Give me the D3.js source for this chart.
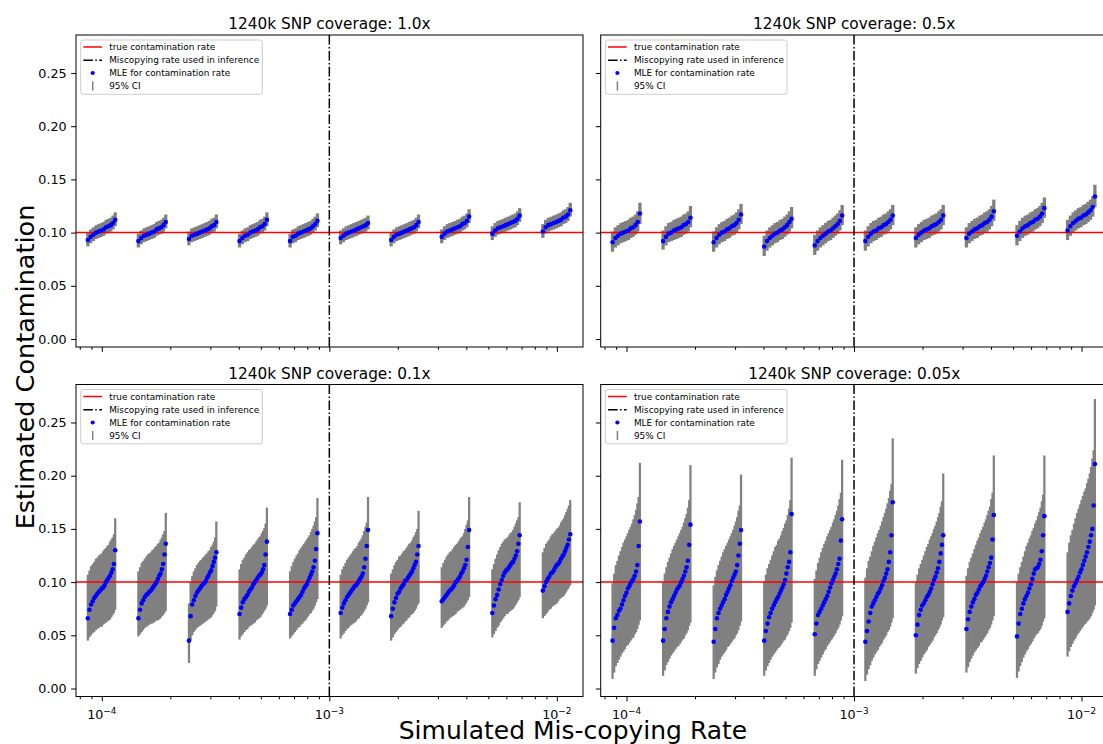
<!DOCTYPE html>
<html>
<head>
<meta charset="utf-8">
<script src="https://cdn.jsdelivr.net/npm/d3@7"></script>
<style>
  body { margin: 0; background: #fff; }
  text { font-family: "DejaVu Sans", sans-serif; }
</style>
</head>
<body>
<svg id="chart" width="1103" height="744"></svg>
<script>
// simulated mis-copying rates (one group of runs per rate)
const rates = [1e-4, 1.668e-4, 2.783e-4, 4.642e-4, 7.743e-4, 1.292e-3, 2.154e-3, 3.594e-3, 5.995e-3, 1e-2];
const coverages = ['1.0x', '0.5x', '0.1x', '0.05x'];
const trueContamination = 0.1;
const inferenceRate = 1e-3;
const yTicks = [0, 0.05, 0.10, 0.15, 0.20, 0.25];
const xTicks = [1e-4, 1e-3, 1e-2];
const xTickExp = ['\u22124', '\u22123', '\u22122'];
const minorTicks = [8e-5, 9e-5, 2e-4, 3e-4, 4e-4, 5e-4, 6e-4, 7e-4, 8e-4, 9e-4,
                    2e-3, 3e-3, 4e-3, 5e-3, 6e-3, 7e-3, 8e-3, 9e-3];
const legendLabels = ['true contamination rate', 'Miscopying rate used in inference',
                      'MLE for contamination rate', '95% CI'];

// coverage 1.0x: sorted MLEs and 95% CI per rate group
const mle_1x = [
  [0.093,0.096,0.098,0.100,0.101,0.102,0.103,0.105,0.106,0.107,0.109,0.112],
  [0.092,0.095,0.097,0.098,0.099,0.100,0.101,0.103,0.104,0.105,0.107,0.110],
  [0.094,0.097,0.098,0.099,0.100,0.101,0.102,0.103,0.104,0.106,0.107,0.110],
  [0.092,0.095,0.097,0.098,0.100,0.101,0.102,0.103,0.105,0.106,0.108,0.112],
  [0.092,0.096,0.097,0.099,0.100,0.101,0.102,0.103,0.104,0.106,0.108,0.111],
  [0.095,0.097,0.099,0.100,0.101,0.102,0.103,0.104,0.105,0.106,0.107,0.109],
  [0.093,0.096,0.098,0.099,0.100,0.101,0.102,0.103,0.104,0.105,0.107,0.110],
  [0.096,0.099,0.101,0.102,0.103,0.104,0.105,0.106,0.108,0.109,0.111,0.115],
  [0.099,0.102,0.104,0.105,0.106,0.107,0.108,0.109,0.110,0.111,0.113,0.116],
  [0.101,0.105,0.107,0.108,0.109,0.110,0.111,0.112,0.114,0.115,0.117,0.121]
];
const ciLow_1x = [
  [0.087,0.090,0.092,0.094,0.095,0.096,0.097,0.099,0.100,0.101,0.103,0.106],
  [0.086,0.089,0.091,0.092,0.093,0.094,0.095,0.097,0.098,0.099,0.101,0.104],
  [0.088,0.091,0.092,0.093,0.094,0.095,0.096,0.097,0.098,0.100,0.101,0.104],
  [0.086,0.089,0.091,0.092,0.094,0.095,0.096,0.097,0.099,0.100,0.102,0.106],
  [0.086,0.090,0.091,0.093,0.094,0.095,0.096,0.097,0.098,0.100,0.102,0.105],
  [0.089,0.091,0.093,0.094,0.095,0.096,0.097,0.098,0.099,0.100,0.101,0.103],
  [0.087,0.090,0.092,0.093,0.094,0.095,0.096,0.097,0.098,0.099,0.101,0.104],
  [0.090,0.093,0.095,0.096,0.097,0.098,0.099,0.100,0.102,0.103,0.105,0.109],
  [0.093,0.096,0.098,0.099,0.100,0.101,0.102,0.103,0.104,0.105,0.107,0.110],
  [0.095,0.099,0.101,0.102,0.103,0.104,0.105,0.106,0.108,0.109,0.111,0.115]
];
const ciHigh_1x = [
  [0.100,0.103,0.105,0.107,0.108,0.109,0.110,0.112,0.113,0.114,0.116,0.119],
  [0.099,0.102,0.104,0.105,0.106,0.107,0.108,0.110,0.111,0.112,0.114,0.117],
  [0.101,0.104,0.105,0.106,0.107,0.108,0.109,0.110,0.111,0.113,0.114,0.117],
  [0.099,0.102,0.104,0.105,0.107,0.108,0.109,0.110,0.112,0.113,0.115,0.119],
  [0.099,0.103,0.104,0.106,0.107,0.108,0.109,0.110,0.111,0.113,0.115,0.118],
  [0.102,0.104,0.106,0.107,0.108,0.109,0.110,0.111,0.112,0.113,0.114,0.116],
  [0.100,0.103,0.105,0.106,0.107,0.108,0.109,0.110,0.111,0.112,0.114,0.117],
  [0.103,0.106,0.108,0.109,0.110,0.111,0.112,0.113,0.115,0.116,0.118,0.122],
  [0.106,0.109,0.111,0.112,0.113,0.114,0.115,0.116,0.117,0.118,0.120,0.123],
  [0.108,0.112,0.114,0.115,0.116,0.117,0.118,0.119,0.121,0.122,0.124,0.128]
];

// coverage 0.5x
const mle_05x = [
  [0.091,0.095,0.097,0.099,0.100,0.101,0.102,0.104,0.105,0.107,0.110,0.118],
  [0.092,0.096,0.099,0.100,0.102,0.103,0.104,0.105,0.107,0.108,0.110,0.114],
  [0.091,0.095,0.098,0.100,0.101,0.103,0.104,0.106,0.107,0.109,0.112,0.117],
  [0.087,0.092,0.095,0.097,0.099,0.100,0.102,0.103,0.105,0.107,0.110,0.113],
  [0.088,0.092,0.095,0.097,0.099,0.101,0.102,0.104,0.106,0.108,0.111,0.116],
  [0.092,0.096,0.099,0.101,0.102,0.104,0.105,0.107,0.108,0.110,0.112,0.116],
  [0.095,0.098,0.100,0.102,0.103,0.104,0.106,0.107,0.108,0.110,0.112,0.116],
  [0.095,0.099,0.101,0.103,0.104,0.106,0.107,0.109,0.110,0.112,0.115,0.120],
  [0.097,0.101,0.104,0.106,0.107,0.109,0.110,0.112,0.113,0.115,0.118,0.123],
  [0.102,0.106,0.109,0.111,0.113,0.114,0.116,0.117,0.119,0.121,0.124,0.134]
];
const ciLow_05x = [
  [0.082,0.086,0.088,0.090,0.091,0.092,0.093,0.095,0.096,0.098,0.101,0.108],
  [0.084,0.088,0.091,0.092,0.093,0.094,0.095,0.096,0.098,0.099,0.101,0.105],
  [0.082,0.086,0.089,0.091,0.092,0.094,0.095,0.097,0.098,0.100,0.103,0.108],
  [0.078,0.083,0.086,0.088,0.090,0.091,0.093,0.094,0.096,0.098,0.101,0.104],
  [0.079,0.083,0.086,0.088,0.090,0.092,0.093,0.095,0.097,0.099,0.102,0.107],
  [0.083,0.087,0.090,0.092,0.093,0.095,0.096,0.098,0.099,0.101,0.103,0.107],
  [0.086,0.089,0.091,0.093,0.094,0.095,0.097,0.098,0.099,0.101,0.103,0.107],
  [0.086,0.090,0.092,0.094,0.095,0.097,0.098,0.100,0.101,0.103,0.106,0.111],
  [0.088,0.092,0.095,0.097,0.098,0.100,0.101,0.103,0.104,0.106,0.109,0.114],
  [0.093,0.097,0.100,0.102,0.104,0.105,0.107,0.108,0.110,0.112,0.115,0.124]
];
const ciHigh_05x = [
  [0.101,0.105,0.107,0.109,0.110,0.111,0.112,0.114,0.115,0.117,0.120,0.128],
  [0.102,0.106,0.109,0.110,0.112,0.113,0.114,0.115,0.117,0.118,0.120,0.125],
  [0.101,0.105,0.108,0.110,0.111,0.113,0.114,0.116,0.117,0.119,0.122,0.127],
  [0.097,0.102,0.105,0.107,0.109,0.110,0.112,0.113,0.115,0.117,0.120,0.124],
  [0.098,0.102,0.105,0.107,0.109,0.111,0.112,0.114,0.116,0.118,0.121,0.126],
  [0.102,0.106,0.109,0.111,0.112,0.114,0.115,0.117,0.118,0.120,0.122,0.126],
  [0.105,0.108,0.110,0.112,0.113,0.114,0.116,0.117,0.118,0.120,0.122,0.126],
  [0.105,0.109,0.111,0.113,0.114,0.116,0.117,0.119,0.120,0.122,0.125,0.131],
  [0.107,0.111,0.114,0.116,0.117,0.119,0.120,0.122,0.123,0.125,0.128,0.133],
  [0.112,0.116,0.119,0.121,0.123,0.124,0.126,0.127,0.129,0.131,0.134,0.145]
];

// coverage 0.1x
const mle_01x = [
  [0.066,0.074,0.079,0.082,0.085,0.087,0.089,0.091,0.092,0.094,0.095,0.097,0.100,0.102,0.104,0.106,0.109,0.112,0.117,0.130],
  [0.066,0.074,0.080,0.083,0.086,0.088,0.089,0.091,0.092,0.094,0.096,0.098,0.100,0.103,0.106,0.108,0.112,0.117,0.126,0.136],
  [0.045,0.068,0.079,0.083,0.087,0.090,0.092,0.094,0.096,0.098,0.099,0.101,0.104,0.106,0.109,0.111,0.115,0.119,0.123,0.128],
  [0.070,0.076,0.081,0.084,0.086,0.088,0.091,0.093,0.095,0.098,0.100,0.102,0.104,0.106,0.107,0.109,0.112,0.116,0.126,0.138],
  [0.070,0.074,0.078,0.080,0.082,0.084,0.086,0.088,0.091,0.094,0.096,0.098,0.101,0.104,0.107,0.110,0.114,0.120,0.131,0.146],
  [0.071,0.076,0.080,0.083,0.086,0.088,0.090,0.092,0.094,0.096,0.097,0.099,0.101,0.103,0.105,0.108,0.114,0.122,0.134,0.149],
  [0.068,0.075,0.081,0.085,0.089,0.091,0.094,0.096,0.098,0.101,0.102,0.104,0.106,0.108,0.110,0.113,0.116,0.119,0.126,0.134],
  [0.082,0.084,0.086,0.088,0.090,0.092,0.093,0.095,0.097,0.100,0.101,0.103,0.105,0.108,0.110,0.113,0.116,0.121,0.133,0.149],
  [0.071,0.078,0.084,0.088,0.093,0.098,0.102,0.106,0.109,0.111,0.112,0.114,0.116,0.118,0.119,0.122,0.125,0.129,0.136,0.144],
  [0.092,0.096,0.100,0.103,0.105,0.108,0.109,0.111,0.114,0.116,0.117,0.119,0.122,0.124,0.126,0.129,0.132,0.135,0.140,0.145]
];
const ciLow_01x = [
  [0.045,0.048,0.050,0.052,0.053,0.055,0.056,0.057,0.058,0.058,0.060,0.061,0.062,0.063,0.064,0.065,0.067,0.069,0.071,0.074],
  [0.049,0.051,0.053,0.055,0.057,0.058,0.059,0.060,0.061,0.061,0.062,0.063,0.064,0.064,0.065,0.066,0.068,0.069,0.071,0.073],
  [0.024,0.045,0.050,0.053,0.055,0.057,0.058,0.059,0.060,0.061,0.062,0.063,0.064,0.065,0.066,0.067,0.069,0.071,0.073,0.077],
  [0.046,0.049,0.051,0.053,0.055,0.056,0.058,0.059,0.060,0.061,0.062,0.064,0.065,0.066,0.067,0.069,0.071,0.073,0.075,0.078],
  [0.047,0.049,0.051,0.053,0.055,0.057,0.058,0.060,0.061,0.063,0.064,0.066,0.068,0.070,0.071,0.073,0.075,0.078,0.081,0.084],
  [0.047,0.050,0.052,0.054,0.056,0.057,0.059,0.060,0.061,0.062,0.063,0.065,0.066,0.068,0.069,0.071,0.073,0.075,0.078,0.081],
  [0.045,0.048,0.051,0.053,0.055,0.057,0.058,0.060,0.061,0.063,0.064,0.066,0.067,0.069,0.070,0.071,0.073,0.075,0.078,0.080],
  [0.057,0.059,0.061,0.063,0.064,0.066,0.067,0.068,0.069,0.070,0.072,0.073,0.074,0.075,0.076,0.077,0.079,0.081,0.083,0.086],
  [0.048,0.051,0.054,0.057,0.059,0.062,0.064,0.066,0.068,0.070,0.070,0.072,0.073,0.074,0.075,0.077,0.079,0.081,0.083,0.086],
  [0.066,0.068,0.070,0.072,0.074,0.075,0.077,0.078,0.079,0.080,0.082,0.084,0.085,0.086,0.087,0.089,0.091,0.093,0.095,0.097]
];
const ciHigh_01x = [
  [0.107,0.111,0.115,0.117,0.119,0.122,0.123,0.125,0.126,0.127,0.129,0.131,0.132,0.134,0.135,0.138,0.140,0.142,0.145,0.160],
  [0.110,0.114,0.118,0.120,0.122,0.124,0.126,0.127,0.128,0.130,0.131,0.133,0.134,0.136,0.137,0.140,0.142,0.145,0.148,0.165],
  [0.080,0.100,0.106,0.110,0.113,0.116,0.118,0.120,0.121,0.123,0.124,0.126,0.127,0.129,0.130,0.133,0.135,0.138,0.142,0.157],
  [0.112,0.117,0.121,0.123,0.126,0.128,0.130,0.131,0.133,0.135,0.136,0.138,0.140,0.142,0.143,0.146,0.148,0.151,0.155,0.170],
  [0.110,0.115,0.119,0.122,0.125,0.127,0.130,0.132,0.134,0.136,0.138,0.140,0.142,0.144,0.147,0.150,0.153,0.157,0.161,0.179],
  [0.107,0.112,0.115,0.118,0.121,0.123,0.125,0.127,0.129,0.131,0.132,0.134,0.137,0.139,0.141,0.144,0.148,0.152,0.156,0.180],
  [0.108,0.112,0.116,0.119,0.121,0.124,0.125,0.127,0.129,0.130,0.132,0.134,0.136,0.137,0.139,0.142,0.144,0.147,0.150,0.167],
  [0.114,0.118,0.121,0.124,0.126,0.128,0.129,0.131,0.133,0.135,0.136,0.138,0.140,0.142,0.143,0.146,0.150,0.154,0.158,0.180],
  [0.112,0.117,0.122,0.126,0.130,0.133,0.136,0.138,0.140,0.141,0.142,0.144,0.146,0.147,0.149,0.152,0.155,0.158,0.161,0.175],
  [0.128,0.132,0.136,0.138,0.140,0.143,0.145,0.146,0.148,0.150,0.151,0.153,0.156,0.158,0.160,0.163,0.166,0.169,0.172,0.177]
];

// coverage 0.05x
const mle_005x = [
  [0.045,0.057,0.066,0.069,0.073,0.075,0.079,0.083,0.087,0.090,0.094,0.096,0.099,0.101,0.103,0.106,0.110,0.116,0.134,0.157],
  [0.045,0.056,0.066,0.072,0.077,0.081,0.084,0.087,0.090,0.093,0.095,0.097,0.100,0.103,0.106,0.110,0.114,0.120,0.135,0.154],
  [0.044,0.056,0.066,0.071,0.075,0.078,0.081,0.084,0.088,0.091,0.094,0.097,0.101,0.104,0.107,0.110,0.116,0.125,0.136,0.149],
  [0.045,0.054,0.061,0.067,0.071,0.075,0.078,0.081,0.084,0.086,0.089,0.092,0.095,0.098,0.102,0.108,0.114,0.119,0.128,0.164],
  [0.051,0.061,0.069,0.072,0.075,0.078,0.081,0.084,0.087,0.091,0.095,0.099,0.102,0.105,0.108,0.112,0.117,0.122,0.139,0.159],
  [0.044,0.054,0.063,0.071,0.077,0.080,0.083,0.086,0.089,0.091,0.094,0.097,0.101,0.104,0.108,0.112,0.119,0.128,0.144,0.175],
  [0.050,0.060,0.069,0.074,0.078,0.080,0.083,0.086,0.088,0.091,0.094,0.098,0.102,0.105,0.109,0.113,0.119,0.127,0.135,0.144],
  [0.056,0.065,0.072,0.077,0.081,0.084,0.088,0.090,0.093,0.096,0.098,0.100,0.103,0.106,0.110,0.114,0.118,0.123,0.140,0.163],
  [0.049,0.061,0.070,0.075,0.080,0.084,0.087,0.090,0.094,0.098,0.103,0.108,0.112,0.113,0.114,0.117,0.121,0.129,0.144,0.162],
  [0.072,0.080,0.087,0.092,0.096,0.099,0.102,0.105,0.109,0.112,0.116,0.120,0.124,0.128,0.133,0.138,0.144,0.150,0.172,0.211]
];
const ciLow_005x = [
  [0.009,0.015,0.021,0.024,0.027,0.030,0.033,0.035,0.037,0.040,0.041,0.043,0.045,0.047,0.048,0.051,0.053,0.056,0.060,0.064],
  [0.012,0.017,0.022,0.025,0.028,0.031,0.033,0.035,0.037,0.039,0.040,0.042,0.044,0.046,0.047,0.050,0.052,0.055,0.059,0.062],
  [0.009,0.015,0.020,0.023,0.027,0.030,0.032,0.034,0.036,0.039,0.040,0.042,0.044,0.046,0.047,0.050,0.052,0.055,0.059,0.063],
  [0.012,0.017,0.021,0.024,0.027,0.030,0.032,0.034,0.036,0.038,0.039,0.041,0.043,0.045,0.046,0.049,0.051,0.054,0.057,0.062],
  [0.012,0.018,0.023,0.026,0.029,0.032,0.035,0.037,0.040,0.042,0.044,0.046,0.048,0.050,0.052,0.055,0.057,0.060,0.064,0.068],
  [0.007,0.013,0.018,0.022,0.026,0.029,0.032,0.034,0.036,0.039,0.041,0.043,0.046,0.048,0.050,0.053,0.055,0.058,0.062,0.066],
  [0.014,0.019,0.023,0.026,0.029,0.032,0.034,0.036,0.039,0.041,0.043,0.045,0.048,0.050,0.052,0.055,0.057,0.060,0.064,0.067],
  [0.015,0.020,0.025,0.028,0.031,0.034,0.036,0.038,0.040,0.043,0.044,0.046,0.048,0.050,0.052,0.055,0.057,0.060,0.064,0.068],
  [0.010,0.016,0.021,0.025,0.029,0.032,0.035,0.037,0.040,0.042,0.044,0.047,0.049,0.051,0.052,0.054,0.056,0.059,0.063,0.066],
  [0.030,0.035,0.039,0.042,0.045,0.047,0.050,0.052,0.054,0.056,0.058,0.060,0.061,0.063,0.064,0.066,0.068,0.071,0.074,0.078]
];
const ciHigh_005x = [
  [0.099,0.108,0.116,0.120,0.125,0.129,0.133,0.137,0.140,0.143,0.146,0.149,0.152,0.155,0.159,0.163,0.168,0.174,0.180,0.212],
  [0.100,0.108,0.114,0.119,0.123,0.127,0.131,0.134,0.137,0.140,0.143,0.146,0.149,0.152,0.156,0.160,0.164,0.170,0.177,0.210],
  [0.097,0.105,0.111,0.116,0.120,0.124,0.128,0.131,0.134,0.137,0.140,0.143,0.146,0.149,0.153,0.157,0.161,0.167,0.172,0.201],
  [0.100,0.107,0.113,0.117,0.121,0.125,0.129,0.133,0.135,0.139,0.141,0.144,0.148,0.151,0.155,0.158,0.163,0.169,0.177,0.217],
  [0.103,0.111,0.118,0.123,0.128,0.132,0.136,0.139,0.143,0.146,0.149,0.152,0.156,0.159,0.163,0.167,0.172,0.178,0.184,0.215],
  [0.104,0.113,0.120,0.124,0.129,0.134,0.138,0.142,0.146,0.149,0.153,0.157,0.161,0.165,0.169,0.174,0.179,0.186,0.192,0.235],
  [0.100,0.107,0.113,0.117,0.121,0.125,0.129,0.133,0.136,0.140,0.143,0.146,0.150,0.153,0.157,0.161,0.165,0.171,0.176,0.202],
  [0.106,0.113,0.119,0.123,0.127,0.131,0.135,0.139,0.142,0.146,0.149,0.152,0.156,0.159,0.163,0.167,0.171,0.178,0.184,0.219],
  [0.100,0.108,0.114,0.119,0.124,0.129,0.134,0.137,0.141,0.144,0.148,0.151,0.155,0.158,0.162,0.166,0.170,0.176,0.182,0.219],
  [0.128,0.137,0.144,0.149,0.155,0.160,0.165,0.169,0.173,0.177,0.181,0.185,0.188,0.193,0.197,0.202,0.208,0.216,0.224,0.272]
];

const panels = [
  {cov: coverages[0], mle: mle_1x,   lo: ciLow_1x,   hi: ciHigh_1x},
  {cov: coverages[1], mle: mle_05x,  lo: ciLow_05x,  hi: ciHigh_05x},
  {cov: coverages[2], mle: mle_01x,  lo: ciLow_01x,  hi: ciHigh_01x},
  {cov: coverages[3], mle: mle_005x, lo: ciLow_005x, hi: ciHigh_005x}
];

const svg = d3.select('#chart');
const W = 507, H = 312;
const origins = [[76, 35], [600.7, 35], [76, 384.5], [600.7, 384.5]];

const x = d3.scaleLog().domain([Math.pow(10, -4.1135), Math.pow(10, -1.885)]).range([0, W]);
const y = d3.scaleLinear().domain([-0.0075, 0.2857]).range([H, 0]);
// runs inside a group are spread around the rate, in order of their MLE
const spread = d3.scaleLinear().domain([0, 1]).range([0.868, 1.145]);

const grey = '#808080';

panels.forEach((p, k) => {
  const [ox, oy] = origins[k];
  const isLeft = k % 2 === 0;
  const isBottom = k >= 2;
  const g = svg.append('g').attr('transform', `translate(${ox},${oy})`);

  const runX = (r, i, n) => x(r * spread(i / (n - 1)));

  // 95% CI bars
  rates.forEach((r, gi) => {
    const n = p.mle[gi].length;
    const xs = p.mle[gi].map((d, i) => runX(r, i, n));
    const bw = (xs[n - 1] - xs[0]) / (n - 1);
    g.append('g').selectAll('rect')
      .data(p.mle[gi])
      .join('rect')
      .attr('x', (d, i) => xs[i] - bw / 2 - 0.4)
      .attr('width', bw + 0.8)
      .attr('y', (d, i) => y(p.hi[gi][i]))
      .attr('height', (d, i) => y(p.lo[gi][i]) - y(p.hi[gi][i]))
      .attr('fill', grey);
  });

  // true contamination rate
  g.append('line')
    .attr('x1', 0).attr('x2', W)
    .attr('y1', y(trueContamination)).attr('y2', y(trueContamination))
    .attr('stroke', 'red').attr('stroke-width', 1.5);

  // miscopying rate used in inference
  g.append('line')
    .attr('x1', x(inferenceRate)).attr('x2', x(inferenceRate))
    .attr('y1', 0).attr('y2', H)
    .attr('stroke', 'black').attr('stroke-width', 1.5)
    .attr('stroke-dasharray', '9.6,2.4,1.5,2.4');

  // MLE points
  rates.forEach((r, gi) => {
    const n = p.mle[gi].length;
    g.append('g').selectAll('circle')
      .data(p.mle[gi])
      .join('circle')
      .attr('cx', (d, i) => runX(r, i, n))
      .attr('cy', d => y(d))
      .attr('r', 2.3)
      .attr('fill', '#0000ff');
  });

  // y axis
  const yAxis = d3.axisLeft(y).tickValues(yTicks).tickSize(4.9).tickPadding(4.5)
    .tickFormat(isLeft ? d3.format('.2f') : () => '');
  g.append('g').call(yAxis)
    .attr('font-size', 12.7).attr('font-family', 'DejaVu Sans, sans-serif')
    .call(a => a.select('.domain').remove());

  // x axis, major and minor ticks
  g.append('g').attr('transform', `translate(0,${H})`)
    .call(d3.axisBottom(x).tickValues(minorTicks).tickSize(2.8).tickFormat(''))
    .call(a => a.select('.domain').remove());
  const xa = g.append('g').attr('transform', `translate(0,${H})`)
    .call(d3.axisBottom(x).tickValues(xTicks).tickSize(4.9).tickFormat(''))
    .call(a => a.select('.domain').remove());

  if (isBottom) {
    xTicks.forEach((t, i) => {
      const lab = xa.append('text')
        .attr('x', x(t)).attr('y', 22)
        .attr('text-anchor', 'middle')
        .attr('fill', '#000')
        .attr('font-size', 12.7);
      lab.append('tspan').text('10');
      lab.append('tspan').attr('dy', -5).attr('font-size', 8.9).text(xTickExp[i]);
    });
  }

  // frame
  g.append('rect')
    .attr('width', W).attr('height', H)
    .attr('fill', 'none').attr('stroke', 'black').attr('stroke-width', 1);

  // title
  g.append('text')
    .attr('x', W / 2).attr('y', -6)
    .attr('text-anchor', 'middle')
    .attr('font-size', 15.3)
    .text(`1240k SNP coverage: ${p.cov}`);

  // legend
  const lg = g.append('g').attr('transform', 'translate(4.7,5)');
  lg.append('rect')
    .attr('width', 181.6).attr('height', 54.3).attr('rx', 2.5)
    .attr('fill', 'white').attr('fill-opacity', 0.8)
    .attr('stroke', '#cccccc').attr('stroke-width', 1);
  const rowY = [7, 20.3, 33, 46];
  lg.append('line').attr('x1', 2.6).attr('x2', 21.3).attr('y1', rowY[0]).attr('y2', rowY[0])
    .attr('stroke', 'red').attr('stroke-width', 1.5);
  lg.append('line').attr('x1', 2.6).attr('x2', 21.3).attr('y1', rowY[1]).attr('y2', rowY[1])
    .attr('stroke', 'black').attr('stroke-width', 1.5).attr('stroke-dasharray', '9.6,2.4,1.5,2.4');
  lg.append('circle').attr('cx', 12).attr('cy', rowY[2]).attr('r', 2.1).attr('fill', '#0000ff');
  lg.append('line').attr('x1', 12).attr('x2', 12).attr('y1', rowY[3] - 4.5).attr('y2', rowY[3] + 4.5)
    .attr('stroke', grey).attr('stroke-width', 1.5);
  legendLabels.forEach((t, i) => {
    lg.append('text')
      .attr('x', 28.5).attr('y', rowY[i])
      .attr('dy', '0.35em')
      .attr('font-size', 8.9)
      .text(t);
  });
});

// shared axis labels
svg.append('text')
  .attr('x', 573).attr('y', 738.5)
  .attr('text-anchor', 'middle')
  .attr('font-size', 25)
  .text('Simulated Mis-copying Rate');

svg.append('text')
  .attr('transform', 'translate(34,367) rotate(-90)')
  .attr('text-anchor', 'middle')
  .attr('font-size', 25.5)
  .text('Estimated Contamination');
</script>
</body>
</html>
